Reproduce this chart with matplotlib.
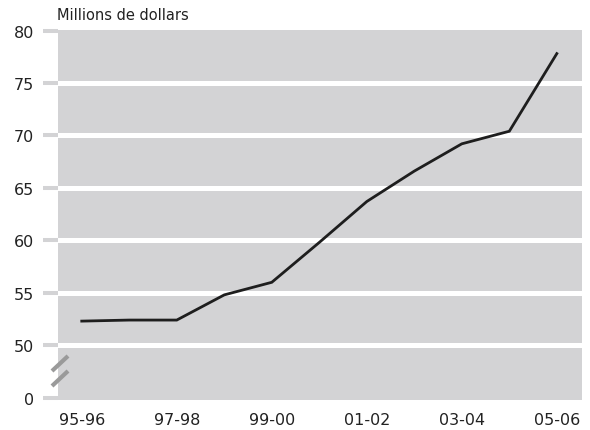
import matplotlib.pyplot as plt
from matplotlib.lines import Line2D

# exercices financiers et montants (millions de dollars)
years = ['95-96', '96-97', '97-98', '98-99', '99-00', '00-01',
         '01-02', '02-03', '03-04', '04-05', '05-06']
values = [52.3, 52.4, 52.4, 54.8, 56.0, 59.8, 63.7, 66.6, 69.2, 70.4, 77.8]

# l'axe est coupé : la position 45 porte l'étiquette 0
tick_pos = [45, 50, 55, 60, 65, 70, 75, 80]
tick_labels = ['0', '50', '55', '60', '65', '70', '75', '80']
grid_pos = [50, 55, 60, 65, 70, 75]
x_labels = ['95-96', '97-98', '99-00', '01-02', '03-04', '05-06']

plt.rcParams['font.family'] = ['Liberation Sans Narrow', 'DejaVu Sans']

fig = plt.figure(figsize=(5.9, 4.31), dpi=100)
ax = fig.add_axes([58 / 590, 1 - 401 / 431, 524 / 590, 370 / 431])
ax.set_facecolor('#d3d3d5')

for g in grid_pos:
    ax.axhline(g, color='white', lw=3.6, zorder=1)

x = list(range(len(years)))
ax.plot(x, values, color='#1e1e1e', lw=2.0, zorder=3, solid_joinstyle='miter')

ax.set_xlim(-0.5, 10.53)
ax.set_ylim(44.78, 80.05)

ax.set_yticks(tick_pos)
ax.set_yticklabels(tick_labels)
ax.set_xticks([years.index(l) for l in x_labels])
ax.set_xticklabels(x_labels)

ax.tick_params(axis='y', direction='out', length=10.5, width=2.9,
               color='#d3d3d5', pad=6.5, labelsize=11.5, labelcolor='#222222')
ax.tick_params(axis='x', length=0, pad=9, labelsize=11.5, labelcolor='#222222')

for s in ax.spines.values():
    s.set_visible(False)

# marques de coupure sur l'axe
for y0, y1 in [(372, 357), (387, 372)]:
    fig.add_artist(Line2D([52 / 590, 68 / 590], [1 - y0 / 431, 1 - y1 / 431],
                          color='#9a9a9a', lw=3.0, solid_capstyle='butt',
                          transform=fig.transFigure))

fig.text(57 / 590, 1 - 20 / 431, 'Millions de dollars', fontsize=10.5,
         color='#222222', ha='left', va='baseline')

plt.savefig('out.png', dpi=100)
plt.close()
